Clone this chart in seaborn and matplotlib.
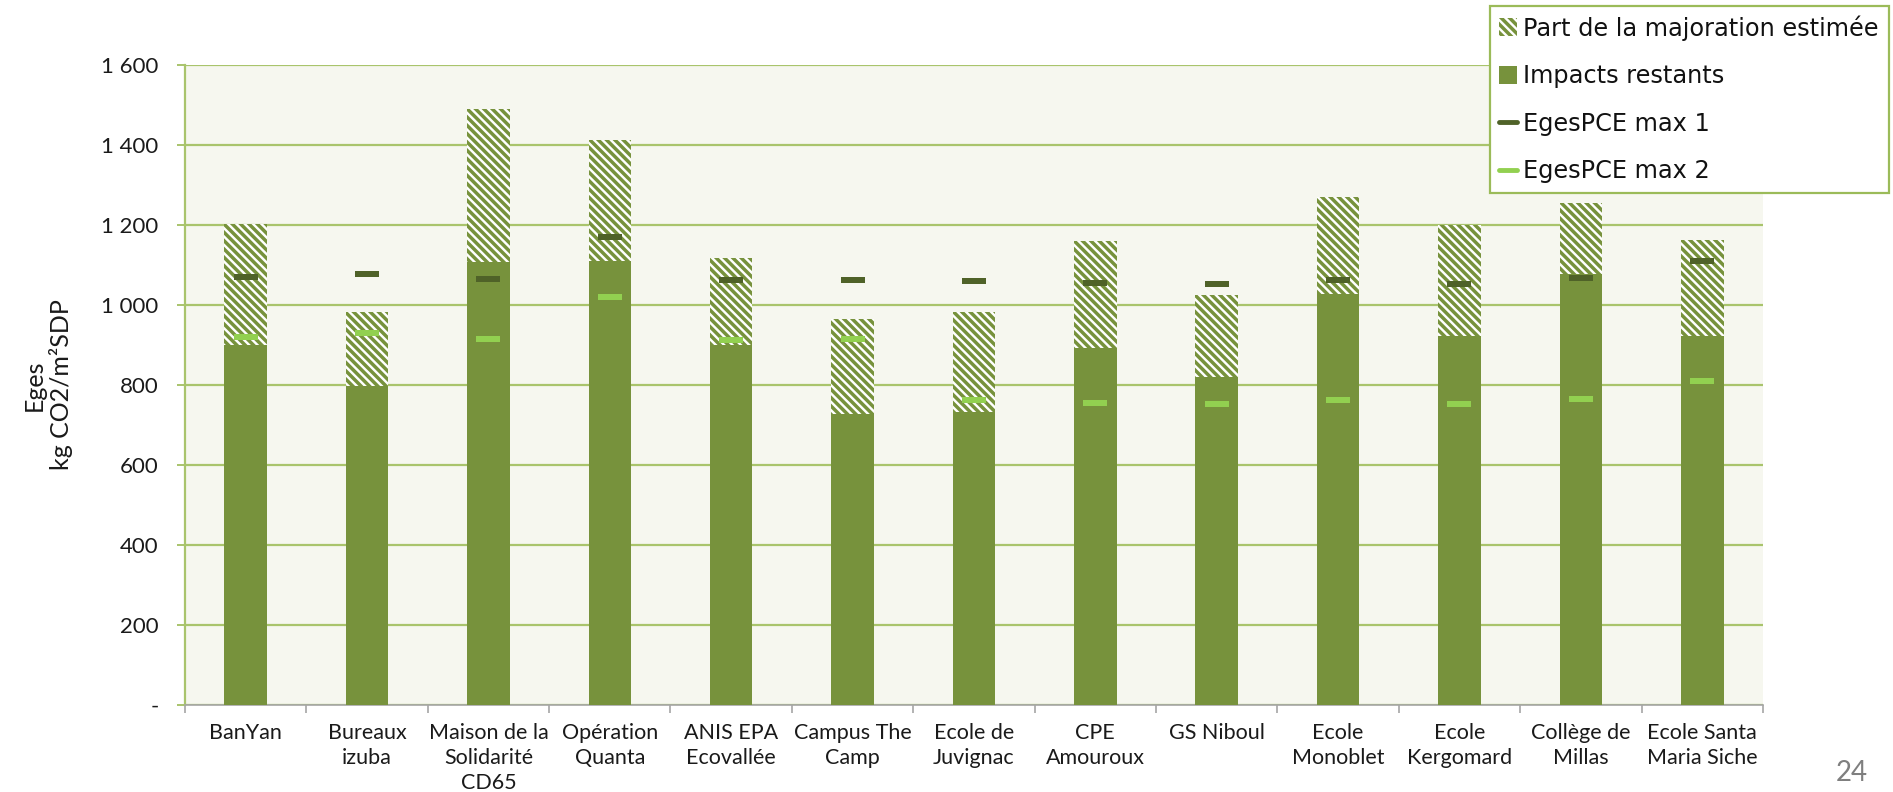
import numpy as np
import pandas as pd
import matplotlib
matplotlib.use("Agg")
import matplotlib.pyplot as plt
import seaborn as sns
from matplotlib.patches import Patch
from matplotlib.lines import Line2D
from matplotlib.ticker import FuncFormatter, FixedLocator

# --- data -------------------------------------------------------------
projets = [
    "BanYan",
    "Bureaux\nizuba",
    "Maison de la\nSolidarité\nCD65",
    "Opération\nQuanta",
    "ANIS EPA\nEcovallée",
    "Campus The\nCamp",
    "Ecole de\nJuvignac",
    "CPE\nAmouroux",
    "GS Niboul",
    "Ecole\nMonoblet",
    "Ecole\nKergomard",
    "Collège de\nMillas",
    "Ecole Santa\nMaria Siche",
]
impacts_restants = [900, 797, 1107, 1111, 901, 727, 732, 893, 821, 1028, 923, 1078, 922]
total_majore = [1202, 983, 1490, 1412, 1118, 965, 983, 1160, 1026, 1270, 1200, 1256, 1162]
eges_max1 = [1071, 1078, 1066, 1169, 1062, 1063, 1061, 1056, 1053, 1063, 1052, 1067, 1109]
eges_max2 = [921, 929, 916, 1019, 912, 914, 762, 755, 753, 763, 752, 766, 810]
y_ticks = [0, 200, 400, 600, 800, 1000, 1200, 1400, 1600]

df = pd.DataFrame({
    "projet": projets,
    "restant": impacts_restants,
    "total": total_majore,
    "max1": eges_max1,
    "max2": eges_max2,
})

# --- style ------------------------------------------------------------
olive = "#77923C"
dark_olive = "#4F6228"
light_green = "#92D050"
grid_green = "#A9C46C"
plot_bg = "#F6F7EF"
hatch_pat = "\\\\\\\\"

sns.set_theme(style="white")
plt.rcParams["font.family"] = ["Lato", "DejaVu Sans"]
plt.rcParams["hatch.color"] = olive
plt.rcParams["hatch.linewidth"] = 2.5

fig = plt.figure(figsize=(18.93, 7.92), dpi=100)
ax = fig.add_axes([0.0977, 0.1098, 0.8336, 0.8082])
ax.set_facecolor(plot_bg)

# hatched total (remaining impacts + estimated increase)
sns.barplot(data=df, x="projet", y="total", order=projets, ax=ax,
            color="white", hatch=hatch_pat, edgecolor="none", linewidth=0,
            width=0.35, saturation=1, errorbar=None, zorder=2)
for p in ax.patches:
    p.set_facecolor("white")
    p.set_edgecolor(olive)
    p.set_linewidth(0)

n_hatched = len(ax.patches)
# solid remaining impacts drawn over the lower part
sns.barplot(data=df, x="projet", y="restant", order=projets, ax=ax,
            color=olive, width=0.35, saturation=1, errorbar=None,
            linewidth=0, zorder=3)
for p in ax.patches[n_hatched:]:
    p.set_facecolor(olive)
    p.set_edgecolor("none")

# threshold markers as short flat dashes
dash = [(-2.0, -0.5), (2.0, -0.5), (2.0, 0.5), (-2.0, 0.5), (-2.0, -0.5)]
sns.scatterplot(data=df, x="projet", y="max1", ax=ax, marker=dash, s=300,
                color=dark_olive, linewidth=0, zorder=5, legend=False)
sns.scatterplot(data=df, x="projet", y="max2", ax=ax, marker=dash, s=300,
                color=light_green, linewidth=0, zorder=5, legend=False)

# --- axes -------------------------------------------------------------
ax.set_xlim(-0.5, len(projets) - 0.5)
ax.set_ylim(0, 1600)
ax.yaxis.set_major_locator(FixedLocator(y_ticks))
ax.yaxis.set_major_formatter(FuncFormatter(
    lambda v, _: "-" if v == 0 else f"{int(v):,}".replace(",", " ")))
ax.grid(axis="y", color=grid_green, linewidth=1.6, zorder=0)
ax.set_axisbelow(True)

for side in ("top", "right"):
    ax.spines[side].set_visible(False)
ax.spines["left"].set_color(grid_green)
ax.spines["left"].set_linewidth(1.6)
ax.spines["bottom"].set_color("#A6A6A6")
ax.spines["bottom"].set_linewidth(1.2)

ax.tick_params(axis="y", which="major", direction="out", length=6, width=1.4,
               color=grid_green, labelsize=16, pad=13, labelcolor="#1A1A1A", left=True)
ax.tick_params(axis="x", which="major", length=0, pad=13, labelsize=15.5,
               labelcolor="#1A1A1A")
ax.set_xticks(range(len(projets)))
ax.set_xticklabels(projets, linespacing=1.3)
ax.xaxis.set_minor_locator(FixedLocator(np.arange(-0.5, len(projets), 1.0)))
ax.tick_params(axis="x", which="minor", direction="out", length=6, width=1.2,
               color="#A6A6A6", bottom=True)

ax.set_xlabel("")
ax.set_ylabel("Eges\nkg CO2/m²SDP", fontsize=18, labelpad=20, linespacing=1.2,
              color="#1A1A1A")

# --- legend -----------------------------------------------------------
handles = [
    Patch(facecolor="white", edgecolor=olive, hatch=hatch_pat, linewidth=0),
    Patch(facecolor=olive, edgecolor="none"),
    Line2D([], [], color=dark_olive, linewidth=3.5),
    Line2D([], [], color=light_green, linewidth=3.5),
]
labels = ["Part de la majoration estimée", "Impacts restants",
          "EgesPCE max 1", "EgesPCE max 2"]
leg = fig.legend(handles, labels, loc="upper left", bbox_to_anchor=(0.787, 0.993),
                 frameon=True, fancybox=False, framealpha=1, edgecolor="#9BBB59",
                 facecolor="white", fontsize=17.3, handlelength=0.75, handleheight=0.75,
                 handletextpad=0.25, labelspacing=0.98, borderpad=0.4,
                 borderaxespad=0)
leg.get_frame().set_linewidth(1.6)
for t in leg.get_texts():
    t.set_fontfamily(["DejaVu Sans"])
    t.set_color("#111111")

# page number
fig.text(0.978, 0.024, "24", fontsize=20, color="#7F7F7F", ha="center", va="center")

fig.savefig("out.png", dpi=100, facecolor="white")
